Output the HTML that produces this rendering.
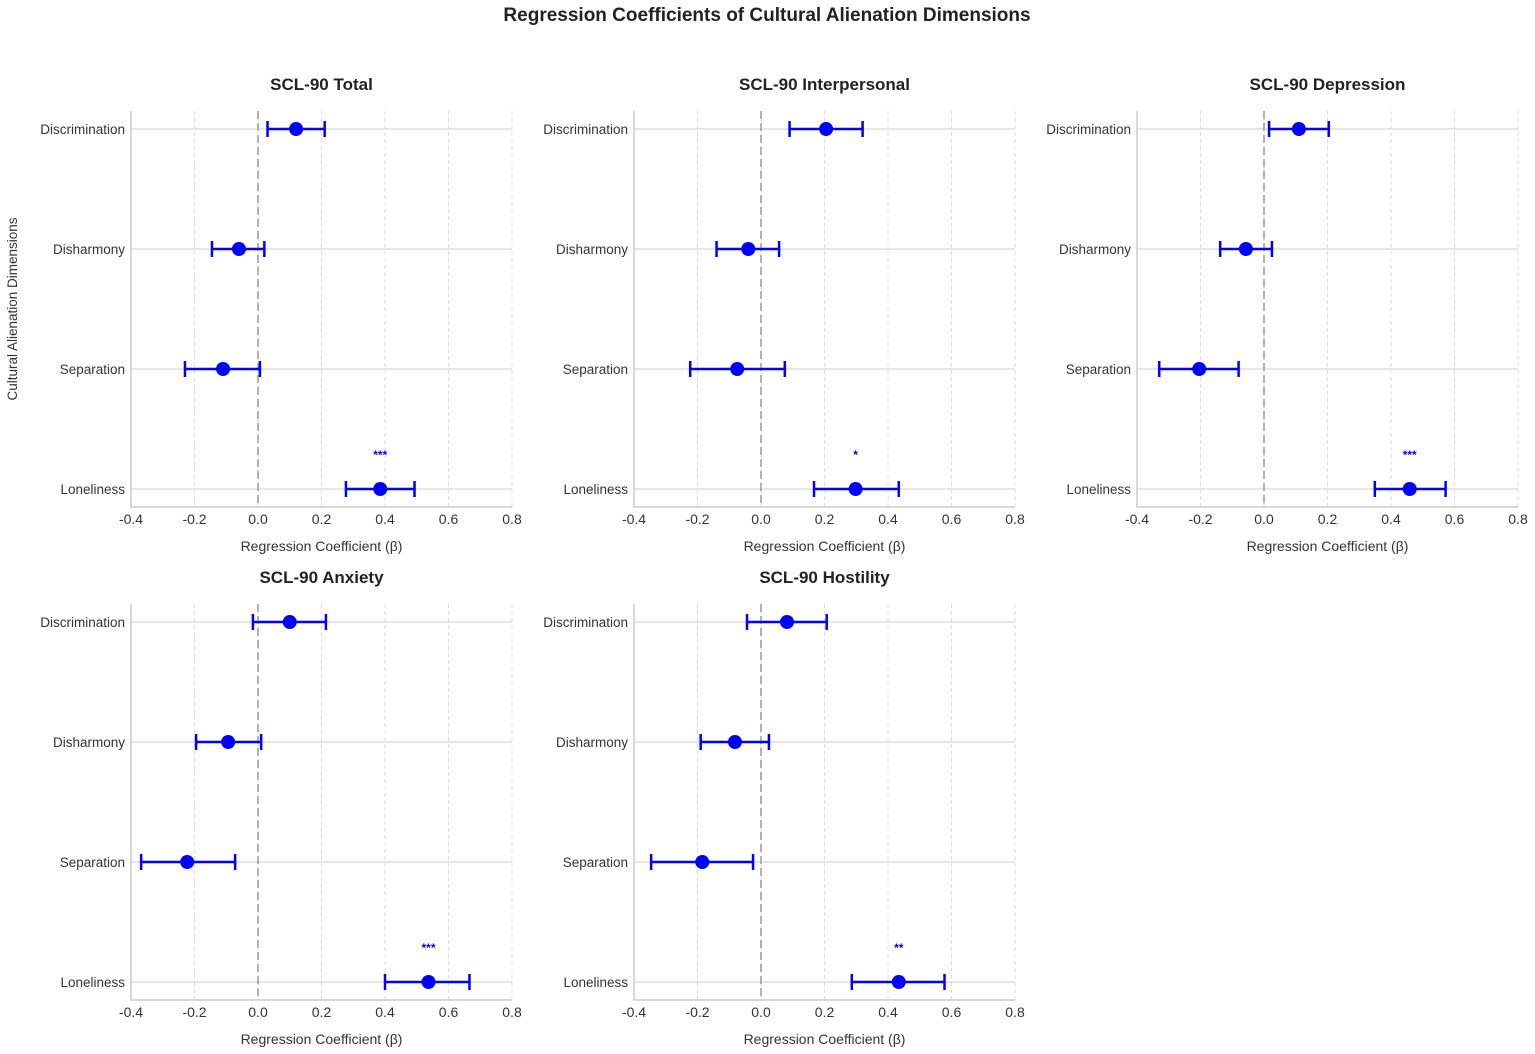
<!DOCTYPE html>
<html><head><meta charset="utf-8"><style>
body{margin:0;background:#fff;}
svg{display:block;font-family:"Liberation Sans",Arial,sans-serif;}
</style></head><body>
<svg id="chart" width="1535" height="1054" viewBox="0 0 1535 1054" xmlns="http://www.w3.org/2000/svg">
<rect width="1535" height="1054" fill="#fff"/>
<text x="767" y="21" text-anchor="middle" font-size="19" font-weight="bold" fill="#222">Regression Coefficients of Cultural Alienation Dimensions</text>
<text transform="translate(17,309) rotate(-90)" text-anchor="middle" font-size="13.5" fill="#333">Cultural Alienation Dimensions</text>
</svg>
<script>
const categories = ["Discrimination","Disharmony","Separation","Loneliness"];
const panelTitles = ["SCL-90 Total","SCL-90 Interpersonal","SCL-90 Depression","SCL-90 Anxiety","SCL-90 Hostility"];
const coefTotal = [0.12,-0.06,-0.11,0.385];
const lowTotal = [0.03,-0.145,-0.23,0.277];
const highTotal = [0.21,0.02,0.006,0.493];
const coefInter = [0.205,-0.04,-0.075,0.298];
const lowInter = [0.09,-0.14,-0.223,0.167];
const highInter = [0.32,0.057,0.075,0.434];
const coefDep = [0.11,-0.057,-0.204,0.459];
const lowDep = [0.016,-0.138,-0.33,0.349];
const highDep = [0.204,0.025,-0.08,0.572];
const coefAnx = [0.1,-0.094,-0.223,0.537];
const lowAnx = [-0.016,-0.195,-0.368,0.40];
const highAnx = [0.214,0.01,-0.072,0.666];
const coefHos = [0.082,-0.082,-0.185,0.434];
const lowHos = [-0.044,-0.19,-0.346,0.286];
const highHos = [0.207,0.025,-0.025,0.578];
const sigLabels = [["","","","***"],["","","","*"],["","","","***"],["","","","***"],["","","","**"]];
const xTicks = [-0.4,-0.2,0.0,0.2,0.4,0.6,0.8];
const tickLabels = ["-0.4","-0.2","0.0","0.2","0.4","0.6","0.8"];

const coefs=[coefTotal,coefInter,coefDep,coefAnx,coefHos];
const lows=[lowTotal,lowInter,lowDep,lowAnx,lowHos];
const highs=[highTotal,highInter,highDep,highAnx,highHos];
const svg=document.getElementById('chart');
const NS="http://www.w3.org/2000/svg";
function mk(tag,attrs,parent){const e=document.createElementNS(NS,tag);for(const k in attrs)e.setAttribute(k,attrs[k]);parent.appendChild(e);return e;}
const lefts=[131,634,1137];const tops=[111,604];const W=381,H=396;
for(let p=0;p<5;p++){
  const L=lefts[p%3],T=tops[Math.floor(p/3)];
  const g=mk('g',{},svg);
  
  
  const xs=v=>L+(v+0.4)/1.2*W;
  const ys=i=>T+18+i*120;
  xTicks.forEach((t,k)=>{
    const gl=mk('line',{x1:xs(t),x2:xs(t),y1:T,y2:T+H,stroke:'#ddd','stroke-width':1,'stroke-dasharray':'4,3'},g);
    
    
    const tl=mk('text',{x:xs(t),y:T+H+17,'text-anchor':'middle','font-size':14,fill:'#333'},g);
    
    
    tl.textContent=tickLabels[k];
  });
  categories.forEach((c,i)=>{
    const hl=mk('line',{x1:L,x2:L+W,y1:ys(i),y2:ys(i),stroke:'#d8d8d8','stroke-width':1.2},g);
    
    
    const cl=mk('text',{x:L-6,y:ys(i)+5,'text-anchor':'end','font-size':13.5,fill:'#333'},g);
    
    
    cl.textContent=c;
  });
  const zl=mk('line',{x1:xs(0),x2:xs(0),y1:T,y2:T+H,stroke:'#999','stroke-width':1.5,'stroke-dasharray':'8,4'},g);
  
  
  const sp=mk('path',{d:`M${L},${T} V${T+H} H${L+W}`,fill:'none',stroke:'#ccc','stroke-width':1.5},g);
  
  
  categories.forEach((c,i)=>{
    const y=ys(i),x1=xs(lows[p][i]),x2=xs(highs[p][i]);
    const eb=mk('path',{d:`M${x1},${y} H${x2} M${x1},${y-8} V${y+8} M${x2},${y-8} V${y+8}`,stroke:'#0000ff','stroke-width':2.5,fill:'none'},g);
    
    
    const pt=mk('circle',{cx:xs(coefs[p][i]),cy:y,r:7,fill:'#0000ff'},g);
    
    
    if(sigLabels[p][i]){
      const st=mk('text',{x:xs(coefs[p][i]),y:y-30,'text-anchor':'middle','font-size':12,'font-weight':'bold',fill:'#0000ff'},g);
      
      
      st.textContent=sigLabels[p][i];
    }
  });
  const pt=mk('text',{x:L+W/2,y:T-21,'text-anchor':'middle','font-size':17,'font-weight':'bold',fill:'#222'},g);
  
  
  pt.textContent=panelTitles[p];
  const xt=mk('text',{x:L+W/2,y:T+H+44,'text-anchor':'middle','font-size':14,fill:'#333'},g);
  
  
  xt.textContent='Regression Coefficient (β)';
}
</script>
</body></html>
